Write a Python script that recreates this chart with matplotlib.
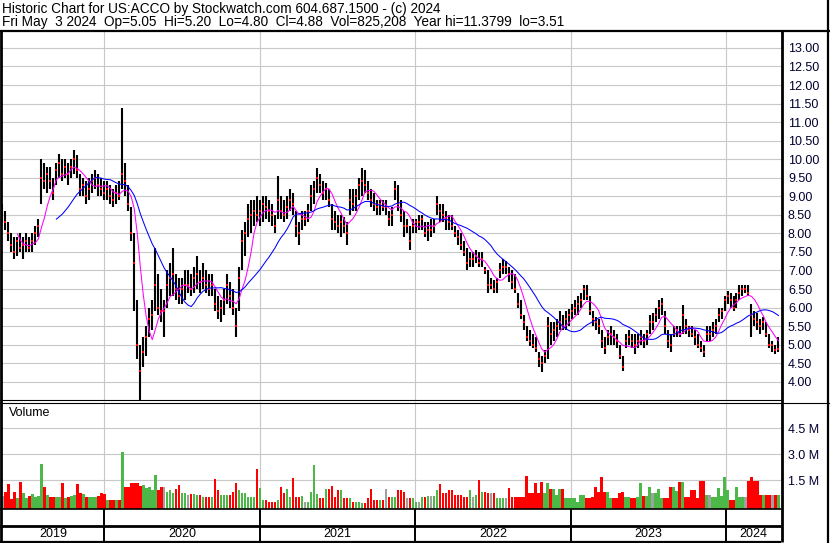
import matplotlib
matplotlib.use("Agg")
import matplotlib.pyplot as plt
import matplotlib.dates as mdates
from matplotlib.lines import Line2D
import numpy as np
import pandas as pd

plt.rcParams['font.family'] = ['Liberation Sans', 'DejaVu Sans']

# weekly bars, May 2019 - May 2024
lo = [8.3, 8.1, 7.8, 7.5, 7.3, 7.4, 7.5, 7.3, 7.5, 7.5,
      7.5, 7.7, 7.9, 8.8, 9.2, 9.1, 9.2, 8.9, 9.3, 9.5,
      9.4, 9.5, 9.3, 9.5, 9.6, 9.5, 9.0, 9.0, 8.8, 8.9,
      9.1, 9.2, 9.0, 9.0, 8.9, 8.9, 8.8, 8.7, 8.8, 8.9,
      9.2, 9.0, 8.6, 7.8, 5.9, 4.6, 3.51, 4.4, 4.7, 5.2,
      5.4, 5.9, 5.8, 5.6, 5.2, 6.0, 6.3, 6.3, 6.2, 6.1,
      6.1, 6.2, 6.4, 6.3, 6.4, 6.5, 6.4, 6.5, 6.4, 6.3,
      6.3, 5.9, 5.7, 5.6, 5.8, 6.1, 6.0, 5.8, 5.2, 5.9,
      7.0, 7.4, 7.9, 8.0, 8.2, 8.3, 8.2, 8.3, 8.4, 8.3,
      8.2, 8.0, 8.4, 8.4, 8.3, 8.4, 8.6, 8.5, 7.9, 7.7,
      8.1, 8.2, 8.3, 8.6, 8.8, 9.1, 9.1, 8.9, 8.9, 8.7,
      8.1, 8.1, 8.0, 7.9, 8.0, 7.7, 8.5, 8.6, 8.6, 8.9,
      9.0, 9.1, 8.9, 8.7, 8.6, 8.5, 8.5, 8.6, 8.5, 8.2,
      8.2, 8.9, 8.6, 8.3, 7.9, 8.0, 7.55, 8.0, 8.0, 8.1,
      8.1, 7.9, 7.8, 7.9, 8.0, 8.5, 8.3, 8.3, 8.1, 8.1,
      8.1, 7.9, 7.7, 7.55, 7.4, 7.0, 7.1, 7.1, 7.2, 7.1,
      7.1, 6.9, 6.4, 6.5, 6.4, 6.4, 6.8, 6.9, 6.9, 6.7,
      6.5, 6.4, 6.0, 5.7, 5.4, 5.1, 4.95, 4.9, 4.8, 4.4,
      4.27, 4.5, 4.6, 5.0, 5.1, 5.2, 5.4, 5.4, 5.4, 5.5,
      5.7, 5.8, 5.8, 6.0, 6.2, 6.2, 5.8, 5.5, 5.4, 5.3,
      4.9, 4.76, 5.0, 5.0, 5.0, 4.9, 4.6, 4.3, 4.9, 5.0,
      4.9, 4.76, 4.9, 5.0, 4.9, 5.0, 5.3, 5.4, 5.6, 5.7,
      5.8, 5.3, 4.9, 4.8, 5.2, 5.2, 5.2, 5.3, 5.3, 5.2,
      5.2, 5.0, 4.9, 4.8, 4.67, 5.1, 5.1, 5.2, 5.3, 5.6,
      5.7, 5.9, 6.1, 6.0, 5.9, 6.0, 6.2, 6.3, 6.4, 6.3,
      5.2, 5.5, 5.4, 5.3, 5.4, 5.2, 4.9, 4.8, 4.75, 4.8]
hi = [8.8, 8.6, 8.3, 8.0, 7.9, 7.9, 8.0, 7.9, 8.0, 7.9,
      8.0, 8.2, 8.4, 10.0, 9.9, 9.8, 9.8, 9.5, 9.9, 10.15,
      10.0, 10.0, 9.9, 10.0, 10.25, 10.1, 9.6, 9.5, 9.4, 9.5,
      9.6, 9.7, 9.6, 9.5, 9.4, 9.4, 9.3, 9.2, 9.3, 9.4,
      11.38, 9.9, 9.3, 8.7, 8.0, 6.2, 5.0, 5.2, 5.5, 6.0,
      6.2, 7.6, 6.9, 6.5, 6.2, 7.0, 7.2, 7.6, 6.9, 6.8,
      6.8, 7.0, 7.0, 6.9, 7.1, 7.4, 7.0, 7.2, 7.0, 6.9,
      6.9, 6.5, 6.3, 6.2, 6.5, 6.9, 6.7, 6.5, 6.0, 7.1,
      8.1, 8.3, 8.8, 8.9, 8.9, 9.0, 8.9, 9.0, 9.0, 8.9,
      8.8, 8.5, 9.55, 9.0, 8.9, 9.0, 9.2, 9.1, 8.6, 8.3,
      8.6, 8.6, 8.8, 9.3, 9.4, 9.75, 9.6, 9.4, 9.35, 9.2,
      8.8, 8.6, 8.5, 8.5, 8.45, 8.3, 9.2, 9.2, 9.2, 9.5,
      9.75, 9.7, 9.4, 9.2, 9.1, 8.9, 8.9, 8.9, 8.9, 8.6,
      8.7, 9.4, 9.3, 8.9, 8.6, 8.4, 8.2, 8.4, 8.4, 8.5,
      8.5, 8.3, 8.3, 8.4, 8.4, 9.0, 8.8, 8.8, 8.6, 8.5,
      8.5, 8.2, 8.1, 8.0, 7.8, 7.6, 7.5, 7.5, 7.55, 7.5,
      7.5, 7.1, 7.0, 6.8, 6.75, 6.8, 7.2, 7.3, 7.25, 7.1,
      7.0, 6.9, 6.4, 6.2, 5.8, 5.5, 5.4, 5.3, 5.2, 4.8,
      4.7, 4.85, 5.75, 5.6, 5.6, 5.7, 5.9, 5.8, 5.9, 5.95,
      6.1, 6.2, 6.3, 6.4, 6.62, 6.6, 6.3, 5.9, 5.75, 5.7,
      5.4, 5.2, 5.4, 5.5, 5.4, 5.3, 5.0, 4.7, 5.3, 5.4,
      5.3, 5.3, 5.3, 5.4, 5.3, 5.4, 5.8, 5.85, 6.0, 6.2,
      6.25, 5.9, 5.4, 5.3, 5.5, 5.5, 5.5, 6.07, 5.7, 5.5,
      5.5, 5.4, 5.3, 5.1, 5.0, 5.5, 5.5, 5.6, 5.7, 6.0,
      6.0, 6.3, 6.45, 6.4, 6.3, 6.4, 6.6, 6.6, 6.62, 6.6,
      6.1, 5.9, 5.85, 5.7, 5.75, 5.6, 5.3, 5.1, 5.0, 5.2]
cl = [8.6, 8.3, 8.0, 7.7, 7.5, 7.8, 7.6, 7.7, 7.8, 7.6,
      7.8, 8.0, 8.2, 9.5, 9.4, 9.6, 9.4, 9.1, 9.7, 9.9,
      9.6, 9.8, 9.6, 9.8, 10.0, 9.7, 9.2, 9.3, 9.0, 9.2,
      9.4, 9.5, 9.3, 9.2, 9.1, 9.2, 9.0, 8.9, 9.1, 9.0,
      9.6, 9.4, 8.8, 8.0, 7.2, 5.0, 4.3, 4.8, 5.2, 5.7,
      5.8, 6.6, 6.0, 5.9, 5.9, 6.6, 6.8, 6.9, 6.5, 6.3,
      6.5, 6.6, 6.6, 6.5, 6.8, 6.9, 6.7, 6.8, 6.6, 6.5,
      6.6, 6.1, 5.9, 6.0, 6.2, 6.6, 6.3, 6.0, 5.5, 6.8,
      7.8, 8.0, 8.4, 8.5, 8.6, 8.5, 8.6, 8.8, 8.7, 8.6,
      8.5, 8.2, 8.9, 8.6, 8.5, 8.7, 8.9, 8.8, 8.2, 8.0,
      8.4, 8.4, 8.6, 9.0, 9.2, 9.5, 9.3, 9.1, 9.2, 8.9,
      8.4, 8.3, 8.2, 8.3, 8.2, 8.0, 8.9, 8.8, 9.0, 9.3,
      9.4, 9.3, 9.1, 8.9, 8.8, 8.7, 8.8, 8.7, 8.7, 8.4,
      8.5, 9.2, 8.8, 8.5, 8.2, 8.2, 7.8, 8.2, 8.3, 8.3,
      8.4, 8.0, 8.1, 8.1, 8.2, 8.8, 8.6, 8.5, 8.4, 8.3,
      8.2, 8.0, 7.9, 7.7, 7.5, 7.2, 7.3, 7.3, 7.4, 7.2,
      7.3, 7.0, 6.6, 6.6, 6.5, 6.7, 7.0, 7.1, 7.1, 6.9,
      6.7, 6.5, 6.1, 5.8, 5.6, 5.2, 5.1, 5.0, 4.9, 4.6,
      4.5, 4.7, 5.5, 5.3, 5.4, 5.5, 5.6, 5.5, 5.7, 5.8,
      5.9, 6.0, 6.1, 6.2, 6.5, 6.3, 5.9, 5.7, 5.6, 5.5,
      5.1, 4.9, 5.2, 5.3, 5.2, 5.1, 4.7, 4.4, 5.1, 5.2,
      5.1, 5.0, 5.1, 5.2, 5.1, 5.3, 5.6, 5.6, 5.8, 6.0,
      6.1, 5.5, 5.1, 5.0, 5.3, 5.4, 5.3, 5.8, 5.5, 5.4,
      5.3, 5.2, 5.0, 4.9, 4.8, 5.3, 5.3, 5.4, 5.5, 5.8,
      5.9, 6.2, 6.3, 6.2, 6.0, 6.2, 6.4, 6.5, 6.5, 6.4,
      5.8, 5.7, 5.6, 5.5, 5.6, 5.3, 5.0, 5.0, 4.85, 4.88]
# volume in millions of shares
vol = [0.60, 0.83, 1.27, 0.40, 0.80, 0.45, 1.38, 0.77, 0.45, 0.58,
       0.69, 0.54, 0.55, 2.42, 1.10, 0.63, 0.50, 0.54, 0.54, 0.50,
       1.33, 0.44, 0.54, 0.60, 0.63, 1.27, 0.73, 0.70, 0.54, 0.50,
       0.50, 0.54, 0.60, 0.73, 0.70, 0.35, 0.35, 0.35, 0.35, 0.35,
       3.10, 1.12, 1.12, 1.30, 1.30, 1.30, 1.15, 1.20, 1.02, 1.12,
       0.90, 1.79, 0.92, 1.12, 1.10, 0.83, 0.92, 0.73, 1.00, 1.20,
       0.73, 0.73, 0.63, 0.69, 0.69, 0.63, 0.63, 0.54, 0.54, 0.54,
       0.54, 1.54, 0.92, 0.63, 0.63, 0.63, 0.63, 0.83, 1.30, 0.92,
       0.73, 0.73, 0.54, 0.54, 0.54, 2.13, 1.02, 0.35, 0.35, 0.25,
       0.25, 0.25, 0.35, 1.10, 0.73, 1.00, 0.54, 1.60, 0.54, 0.54,
       0.58, 0.25, 0.25, 0.83, 2.37, 0.69, 0.44, 0.44, 0.96, 0.96,
       1.15, 0.54, 0.92, 0.92, 0.44, 0.44, 0.44, 0.25, 0.25, 0.25,
       0.15, 0.15, 0.44, 0.96, 0.35, 0.35, 0.35, 0.35, 0.98, 0.54,
       0.54, 0.54, 0.92, 0.92, 0.83, 0.44, 0.44, 0.44, 0.25, 0.25,
       0.54, 0.54, 0.58, 0.58, 0.58, 0.92, 1.27, 0.73, 0.73, 0.92,
       0.92, 0.63, 0.63, 0.63, 0.54, 0.54, 0.92, 0.54, 0.63, 1.50,
       0.83, 0.83, 0.73, 0.73, 0.73, 0.44, 0.44, 0.44, 0.44, 1.06,
       0.54, 0.54, 0.54, 0.54, 0.54, 1.73, 0.73, 0.73, 1.30, 0.73,
       1.37, 0.73, 1.30, 0.98, 0.98, 0.63, 0.98, 0.96, 0.44, 0.44,
       0.44, 0.44, 0.25, 0.63, 0.63, 0.44, 0.44, 0.54, 1.10, 0.83,
       1.65, 0.83, 0.83, 0.44, 0.44, 0.44, 0.73, 0.83, 0.54, 0.54,
       0.44, 0.44, 0.54, 1.30, 0.58, 0.58, 1.12, 0.73, 0.73, 0.96,
       0.44, 0.44, 0.44, 1.12, 1.12, 0.88, 1.38, 1.38, 0.54, 0.54,
       0.92, 0.92, 0.44, 1.44, 1.44, 0.63, 0.63, 0.54, 0.54, 1.02,
       0.60, 1.65, 0.92, 0.35, 0.35, 1.12, 0.54, 0.54, 0.54, 1.46,
       1.65, 1.46, 1.46, 0.63, 0.63, 0.63, 0.63, 0.63, 0.63, 0.63]

years = [2019, 2020, 2021, 2022, 2023, 2024]
price_ticks = np.arange(4.0, 13.01, 0.5)
vol_ticks = [1.5, 3.0, 4.5]

title1 = "Historic Chart for US:ACCO by Stockwatch.com 604.687.1500 - (c) 2024"
title2 = ("Fri May  3 2024  Op=5.05  Hi=5.20  Lo=4.80  Cl=4.88  Vol=825,208  "
          "Year hi=11.3799  lo=3.51")

dates = pd.date_range("2019-05-07", "2024-05-03", periods=len(cl))
df = pd.DataFrame({"lo": lo, "hi": hi, "cl": cl, "vol": vol}, index=dates)
df["ma_short"] = df["cl"].rolling(6).mean()
df["ma_long"] = df["cl"].rolling(19).mean()
chg = df["cl"].diff().fillna(0)
vcol = np.where(chg > 0, "#4cb848", np.where(chg < 0, "#ff0000", "#a0a0a0"))

W, H = 830, 543
fig = plt.figure(figsize=(W / 100, H / 100), dpi=100)


def box(x0, y0, x1, y1):
    return [x0 / W, 1 - y1 / H, (x1 - x0) / W, (y1 - y0) / H]


def fline(x0, y0, x1, y1, lw):
    fig.add_artist(Line2D([x0 / W, x1 / W], [1 - y0 / H, 1 - y1 / H],
                          transform=fig.transFigure, color="black", lw=lw,
                          solid_capstyle="butt"))


xmin = mdates.date2num(pd.Timestamp("2019-05-06"))
xmax = mdates.date2num(pd.Timestamp("2024-05-09"))
year_starts = [mdates.date2num(pd.Timestamp(f"{y}-01-01")) for y in years[1:]]

# price panel
ax = fig.add_axes(box(2, 32, 781, 400))
ax.vlines(dates, df["lo"], df["hi"], color="black", lw=1.5)
ax.plot(dates, df["cl"], ls="none", marker="s", ms=1.5, mew=0, color="red")
ax.plot(dates, df["ma_short"], color="#ff00ff", lw=0.75)
ax.plot(dates, df["ma_long"], color="#0000ff", lw=0.75)
ax.set_xlim(xmin, xmax)
ax.set_ylim(3.507, 13.43)
ax.set_yticks(price_ticks)
ax.set_yticklabels([f"{t:.2f}" for t in price_ticks])
ax.set_xticks(year_starts)
ax.set_xticklabels([])
ax.yaxis.tick_right()
ax.tick_params(axis="both", length=0, labelsize=9, pad=5, labelcolor="#000030")
ax.grid(True, color="#c8c8c8", lw=0.8)
ax.set_axisbelow(True)
for s in ax.spines.values():
    s.set_visible(False)
ax.text(8, 42, "US:ACCO", transform=None, fontsize=9, va="center")

# volume panel
ylo = -0.173
axv = fig.add_axes(box(2, 402, 781, 509))
axv.bar(dates, np.array(vol) - ylo, bottom=ylo, width=6.0, color=vcol, lw=0)
axv.set_xlim(xmin, xmax)
axv.set_ylim(ylo, 6.0)
axv.set_yticks(vol_ticks)
axv.set_yticklabels([f"{t:.1f} M" for t in vol_ticks])
axv.set_xticks(year_starts)
axv.set_xticklabels([])
axv.yaxis.tick_right()
axv.tick_params(axis="both", length=0, labelsize=9, pad=5, labelcolor="#000030")
axv.grid(True, color="#c8c8c8", lw=0.8)
axv.set_axisbelow(True)
for s in axv.spines.values():
    s.set_visible(False)
fig.text(9 / W, 1 - 413 / H, "Volume", fontsize=9, va="center")

# year strip
axx = fig.add_axes(box(2, 509, 781, 542))
axx.set_xlim(xmin, xmax)
axx.set_ylim(0, 1)
axx.axis("off")
bounds = [xmin] + year_starts + [xmax]
for i, y in enumerate(years):
    axx.text((bounds[i] + bounds[i + 1]) / 2, 0.24, str(y), ha="center",
             va="center", fontsize=9)
for ys in year_starts:
    axx.axvline(ys, color="black", lw=1.4)

# header and frame
fig.text(2 / W, 1 - 9 / H, title1, fontsize=9.8, va="center")
fig.text(2 / W, 1 - 22 / H, title2, fontsize=9.8, va="center")
fline(0, 30.5, 830, 30.5, 1.6)
fline(1, 31, 1, 542, 2.0)
fline(781.5, 31, 781.5, 542, 2.0)
fline(828, 0, 828, 543, 1.6)
fline(0, 400, 781, 400, 0.8)
fline(0, 402.5, 830, 402.5, 0.8)
fline(0, 509, 781, 509, 1.2)
fline(0, 526, 781, 526, 2.0)
fline(0, 541.5, 781, 541.5, 1.6)

fig.savefig("out.png", dpi=100)
